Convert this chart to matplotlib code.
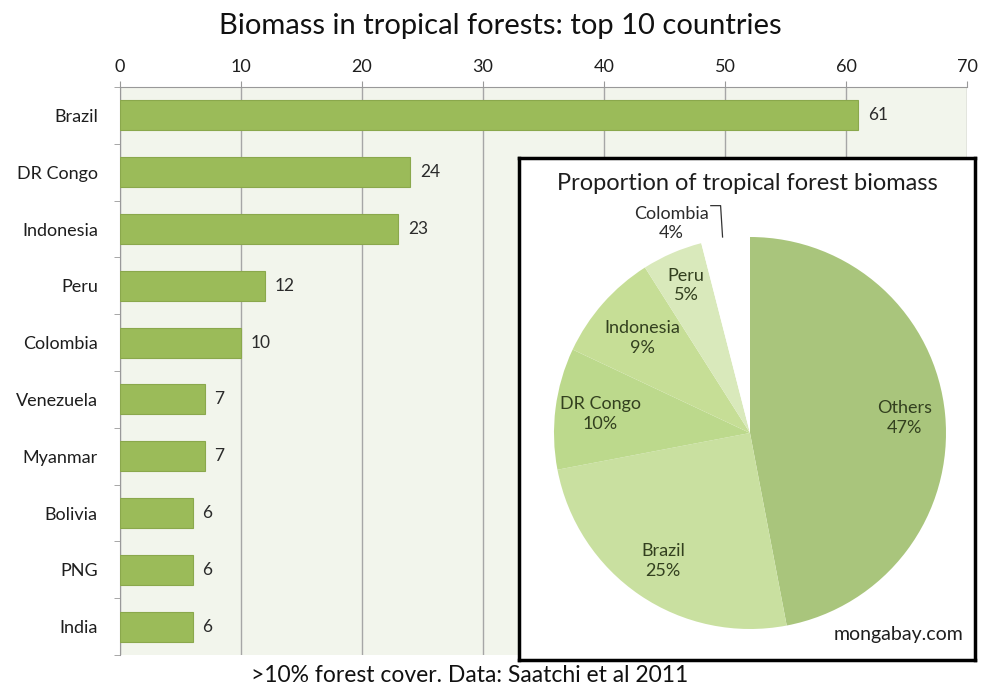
import matplotlib.pyplot as plt
import numpy as np

plt.rcParams['font.family'] = ['Lato', 'DejaVu Sans']

# bar data
countries = ["Brazil", "DR Congo", "Indonesia", "Peru", "Colombia",
             "Venezuela", "Myanmar", "Bolivia", "PNG", "India"]
biomass = [61, 24, 23, 12, 10, 7, 7, 6, 6, 6]

# pie data
pie_labels = ["Others", "Brazil", "DR Congo", "Indonesia", "Peru", "Colombia"]
pie_share = [47, 25, 10, 9, 5, 4]
pie_colors = ["#a9c57c", "#c9e0a0", "#bcd98c", "#c6de96", "#d9e9bb", "white"]

fig = plt.figure(figsize=(9.87, 6.89), dpi=100)
W, H = 987, 689

def box(x0, y0, x1, y1):
    """pixel box (top-left origin) -> figure fraction"""
    return [x0 / W, 1 - y1 / H, (x1 - x0) / W, (y1 - y0) / H]

ax = fig.add_axes(box(120, 87, 967, 655))
ax.set_facecolor("#f2f5ec")
y = np.arange(len(countries))
ax.barh(y, biomass, height=0.53, color="#9bbb59", edgecolor="#8aa84c", lw=0.8, zorder=3)
for yi, v in zip(y, biomass):
    ax.text(v + 0.8, yi, str(v), va="center", ha="left", fontsize=12.5, color="#2b2b2b")
ax.set_ylim(len(countries) - 0.5, -0.5)
ax.set_xlim(0, 70)
ax.set_yticks(y)
ax.set_yticklabels(countries, fontsize=13, color="#1e1e1e")
ax.set_yticks(np.arange(-0.5, len(countries), 1), minor=True)
ax.tick_params(axis="y", which="major", length=0, pad=16)
ax.tick_params(axis="y", which="minor", length=4, color="#999999")
ax.xaxis.tick_top()
ax.set_xticks(range(0, 71, 10))
ax.tick_params(axis="x", labelsize=13, labelcolor="#1e1e1e", length=4, color="#999999", pad=5)
ax.grid(axis="x", color="#a6a6a6", lw=1, zorder=0)
for s in ["right", "bottom"]:
    ax.spines[s].set_visible(False)
for s in ["left", "top"]:
    ax.spines[s].set_color("#999999")

fig.text(500 / W, 1 - 26 / H, "Biomass in tropical forests: top 10 countries",
         ha="center", va="center", fontsize=21, color="#111111")
fig.text(470 / W, 1 - 675 / H, ">10% forest cover. Data: Saatchi et al 2011",
         ha="center", va="center", fontsize=16.5, color="#111111")

# inset box
inset = fig.add_axes(box(519, 158, 975, 660), zorder=5)
inset.set_xticks([])
inset.set_yticks([])
inset.set_facecolor("white")
for s in inset.spines.values():
    s.set_linewidth(2.5)
    s.set_color("black")
inset.text(0.5, 1 - 25 / 502, "Proportion of tropical forest biomass", transform=inset.transAxes,
           ha="center", va="center", fontsize=17, color="#1e1e1e")
inset.text(0.975, 0.05, "mongabay.com", transform=inset.transAxes,
           ha="right", va="center", fontsize=14, color="#1e1e1e")

pax = fig.add_axes(box(554, 237, 946, 629), zorder=6)
wedges, _ = pax.pie(pie_share, colors=pie_colors, startangle=90, counterclock=False,
                    radius=1, wedgeprops=dict(edgecolor="none"))
pax.set_xlim(-1, 1)
pax.set_ylim(-1, 1)
pax.axis("off")

dist = {"Others": 0.79, "Brazil": 0.79, "DR Congo": 0.77, "Indonesia": 0.73, "Peru": 0.82}
for w, lab, pct in zip(wedges, pie_labels, pie_share):
    mid = np.deg2rad((w.theta1 + w.theta2) / 2)
    if lab == "Colombia":
        pax.text(-0.4, 1.07, f"{lab}\n{pct}%", ha="center", va="center",
                 fontsize=13, color="#2b2b2b", linespacing=1.2)
        pax.plot([-0.2, -0.15, -0.14], [1.16, 1.16, 1.0], color="#333333", lw=0.9, clip_on=False)
        continue
    r = dist[lab]
    pax.text(r * np.cos(mid), r * np.sin(mid), f"{lab}\n{pct}%", ha="center", va="center",
             fontsize=13, color="#33401f", linespacing=1.3)

fig.savefig("out.png", dpi=100)
